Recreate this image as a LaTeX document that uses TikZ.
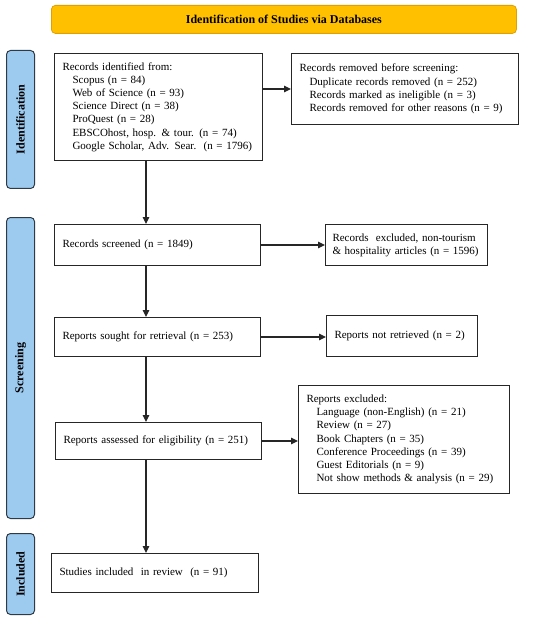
\documentclass[tikz,border=0pt]{standalone}
\usepackage{fontspec}
\setmainfont{Liberation Serif}
\usetikzlibrary{arrows.meta}
\definecolor{bannerfill}{HTML}{FFC000}
\definecolor{bannerline}{HTML}{E0A000}
\definecolor{sidefill}{HTML}{9DCBF0}
\definecolor{sideline}{HTML}{2E3A46}
\tikzset{
  box/.style={draw=black!85, line width=1pt, fill=white, rectangle, inner xsep=8pt, inner ysep=2pt, align=left, anchor=north west, font=\fontsize{11}{13.2}\selectfont},
  side/.style={draw=sideline, line width=1pt, fill=sidefill, rounded corners=4pt, anchor=north west},
  sidetext/.style={rotate=90, font=\fontsize{12}{14}\selectfont\bfseries},
  flow/.style={-{Triangle[length=7pt,width=6.5pt]}, line width=1.1pt, black!85},
}
\newcommand{\ind}{\hspace*{10pt}}
\begin{document}
\begin{tikzpicture}[x=1pt,y=-1pt]
\useasboundingbox (0,0) rectangle (550,620);
% banner
\node[draw=bannerline, line width=0.8pt, fill=bannerfill, rounded corners=4pt, minimum width=465pt, minimum height=28pt, anchor=north west, font=\fontsize{12}{14}\selectfont\bfseries] (banner) at (51,5) {Identification of Studies via Databases};
% side labels
\node[side, minimum width=28pt, minimum height=138pt] (sid) at (6,50) {};
\node[sidetext] (sidt) at (sid.center) {Identification};
\node[side, minimum width=28pt, minimum height=301pt] (sscr) at (6,217) {};
\node[sidetext] (sscrt) at (sscr.center) {Screening};
\node[side, minimum width=28pt, minimum height=81pt] (sinc) at (6,533) {};
\node[sidetext] (sinct) at (sinc.center) {Included};
% boxes
\node[box, minimum width=208pt, minimum height=107pt, text width=192pt] (ident) at (54,53) {Records identified from:\\
\ind Scopus (n = 84)\\
\ind Web of Science (n = 93)\\
\ind Science Direct (n = 38)\\
\ind ProQuest (n = 28)\\
\ind EBSCOhost, hosp. \& tour. (n = 74)\\
\ind Google Scholar, Adv. Sear.\ \ (n = 1796)};
\node[box, minimum width=227pt, minimum height=71pt, text width=211pt] (removed) at (291,53) {Records removed before screening:\\
\ind Duplicate records removed (n = 252)\\
\ind Records marked as ineligible (n = 3)\\
\ind Records removed for other reasons (n = 9)};
\node[box, minimum width=206pt, minimum height=41pt, text width=190pt] (screened) at (54,224) {Records screened (n = 1849)};
\node[box, minimum width=162pt, minimum height=41pt, text width=148pt, inner xsep=7pt] (excl) at (325,224) {Records\ \ excluded,\ non-tourism\\ \& hospitality articles (n = 1596)};
\node[box, minimum width=206pt, minimum height=39pt, text width=190pt] (sought) at (54,317) {Reports sought for retrieval (n = 253)};
\node[box, minimum width=151pt, minimum height=41pt, text width=135pt] (notret) at (326,315) {Reports not retrieved (n = 2)};
\node[box, minimum width=206pt, minimum height=37pt, text width=190pt] (assessed) at (55,422) {Reports assessed for eligibility (n = 251)};
\node[box, minimum width=211pt, minimum height=108pt, text width=195pt] (repexcl) at (298,385) {Reports excluded:\\
\ind Language (non-English) (n = 21)\\
\ind Review (n = 27)\\
\ind Book Chapters (n = 35)\\
\ind Conference Proceedings (n = 39)\\
\ind Guest Editorials (n = 9)\\
\ind Not show methods \& analysis (n = 29)\\[4pt]};
\node[box, minimum width=207pt, minimum height=39pt, text width=191pt] (incl) at (51,553) {Studies included\ \ in review\ \ (n = 91)\\[10pt]};
% connectors
\draw[flow] (ident.east |- 0,89) -- (removed.west |- 0,89);
\draw[flow] (ident.south -| 146,0) -- (screened.north -| 146,0);
\draw[flow] (screened.east) -- (excl.west |- screened.east);
\draw[flow] (screened.south -| 146,0) -- (sought.north -| 146,0);
\draw[flow] (sought.east) -- (notret.west |- sought.east);
\draw[flow] (sought.south -| 146,0) -- (assessed.north -| 146,0);
\draw[flow] (assessed.east) -- (repexcl.west |- assessed.east);
\draw[flow] (assessed.south -| 146,0) -- (incl.north -| 146,0);
\end{tikzpicture}
\end{document}
